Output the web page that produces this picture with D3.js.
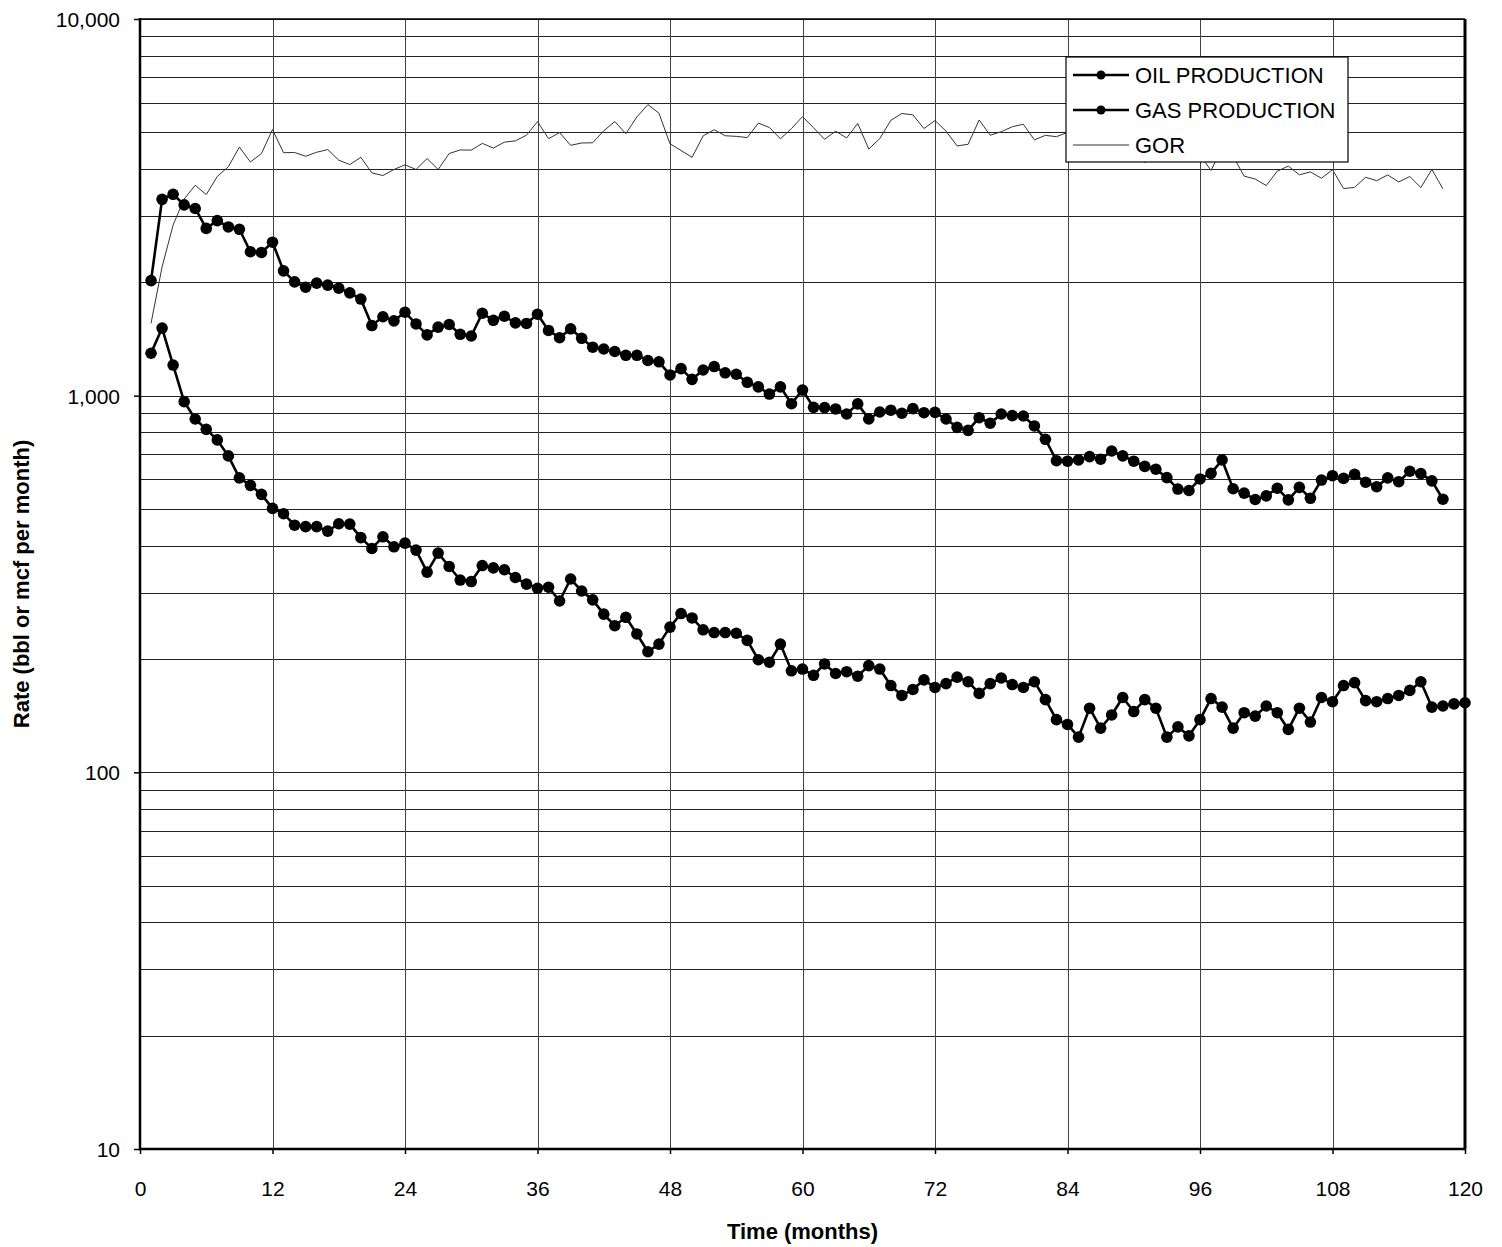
<!DOCTYPE html>
<html>
<head>
<meta charset="utf-8">
<script src="https://cdn.jsdelivr.net/npm/d3@7"></script>
<style>
  body { margin: 0; background: #fff; }
  svg { display: block; }
  text { font-family: "Liberation Sans", Arial, sans-serif; fill: #000; }
</style>
</head>
<body>
<svg id="chart" width="1502" height="1247"></svg>
<script>
// Monthly gas production (mcf per month), months 1..118
const gasProduction = [
  2020, 3320, 3425, 3210, 3140, 2780, 2915, 2805, 2765, 2410,
  2400, 2555, 2145, 2005, 1940, 1990, 1965, 1930, 1875, 1805,
  1535, 1620, 1580, 1665, 1550, 1450, 1520, 1545, 1455, 1440,
  1655, 1585, 1625, 1560, 1555, 1645, 1490, 1425, 1505, 1420,
  1345, 1330, 1310, 1280, 1280, 1240, 1230, 1135, 1180, 1105,
  1170, 1195, 1150, 1140, 1085, 1055, 1010, 1055, 952, 1035,
  931, 930, 922, 894, 951, 867, 905, 915, 898, 924,
  901, 903, 867, 824, 809, 874, 845, 894, 885, 883,
  831, 766, 672, 670, 675, 689, 678, 713, 692, 670,
  649, 638, 606, 565, 560, 601, 622, 675, 566, 551,
  530, 542, 568, 529, 571, 534, 597, 613, 603, 618,
  589, 573, 605, 591, 630, 621, 594, 531
];

// Monthly oil production (bbl per month), months 1..120
const oilProduction = [
  1296, 1512, 1206, 964, 867, 814, 763, 692, 605, 578,
  547, 502, 486, 453, 449, 449, 437, 457, 456, 420,
  393, 422, 397, 406, 389, 340, 382, 352, 324, 321,
  354, 349, 345, 329, 316, 308, 310, 285, 326, 303,
  287, 263, 245, 258, 233, 209, 219, 243, 264, 257,
  239, 235, 235, 234, 224, 199, 196, 219, 186, 188,
  181, 194, 183, 185, 180, 192, 188, 170, 160, 166,
  176, 168, 172, 179, 174, 162, 172, 178, 171, 168,
  174, 156, 138, 134, 124, 148, 131, 142, 158, 145,
  156, 148, 124, 132, 125, 138, 157, 149, 131, 144,
  141, 150, 144, 130, 148, 136, 158, 154, 170, 173,
  155, 154, 157, 160, 165, 174, 149, 150, 152, 153
];

// Gas-oil ratio (scf/bbl), months 1..118
const gor = [
  1556, 2197, 2840, 3328, 3618, 3418, 3820, 4052, 4570, 4173,
  4393, 5088, 4416, 4422, 4321, 4428, 4501, 4219, 4107, 4293,
  3903, 3841, 3985, 4101, 3985, 4262, 3984, 4395, 4491, 4486,
  4675, 4544, 4710, 4748, 4915, 5341, 4813, 4993, 4620, 4686,
  4693, 5049, 5343, 4961, 5494, 5928, 5621, 4663, 4477, 4292,
  4895, 5081, 4898, 4880, 4844, 5291, 5153, 4808, 5118, 5505,
  5144, 4794, 5038, 4832, 5283, 4516, 4814, 5382, 5613, 5566,
  5119, 5375, 5041, 4603, 4649, 5395, 4913, 5022, 5175, 5256,
  4776, 4910, 4870, 5000, 5444, 4655, 5176, 5021, 4380, 4621,
  4160, 4311, 4887, 4280, 4480, 4355, 3962, 4530, 4321, 3826,
  3759, 3613, 3944, 4069, 3858, 3926, 3778, 3981, 3547, 3572,
  3800, 3721, 3854, 3694, 3818, 3569, 3987, 3540
];

const xTicks = [0, 12, 24, 36, 48, 60, 72, 84, 96, 108, 120];
const yTicks = [10, 100, 1000, 10000];
const seriesNames = ["OIL PRODUCTION", "GAS PRODUCTION", "GOR"];

const svg = d3.select("#chart");
const plotLeft = 140, plotRight = 1465, plotTop = 19, plotBottom = 1149;

const x = d3.scaleLinear().domain([0, 120]).range([plotLeft, plotRight]);
const y = d3.scaleLog().domain([10, 10000]).range([plotBottom, plotTop]);

// Horizontal grid at every 1-9 multiple within each decade
const gridValues = [];
[10, 100, 1000].forEach(d => { for (let m = 1; m <= 9; m++) gridValues.push(d * m); });
gridValues.push(10000);

svg.append("g")
  .selectAll("line")
  .data(gridValues.filter(v => v > 10))
  .join("line")
  .attr("x1", plotLeft).attr("x2", plotRight)
  .attr("y1", d => Math.round(y(d)) + 0.5).attr("y2", d => Math.round(y(d)) + 0.5)
  .attr("stroke", "#222").attr("stroke-width", 1);

// Vertical grid every 12 months
svg.append("g")
  .selectAll("line")
  .data(xTicks.filter(v => v > 0 && v < 120))
  .join("line")
  .attr("x1", d => Math.round(x(d)) + 0.5).attr("x2", d => Math.round(x(d)) + 0.5)
  .attr("y1", plotTop).attr("y2", plotBottom)
  .attr("stroke", "#444").attr("stroke-width", 1);

// Axes
const yAxis = d3.axisLeft(y)
  .tickValues(yTicks)
  .tickFormat(d3.format(","))
  .tickSize(6)
  .tickPadding(14);
const gy = svg.append("g").attr("transform", `translate(${plotLeft},0)`).call(yAxis);
gy.select(".domain").remove();
gy.selectAll("text").style("font-size", "21px").attr("dy", "0.35em");
gy.selectAll(".tick line").attr("stroke", "#000").attr("stroke-width", 1.5);

const xAxis = d3.axisBottom(x)
  .tickValues(xTicks)
  .tickSize(5)
  .tickPadding(27);
const gx = svg.append("g").attr("transform", `translate(0,${plotBottom})`).call(xAxis);
gx.select(".domain").remove();
gx.selectAll("text").style("font-size", "21px");
gx.selectAll(".tick line").attr("stroke", "#000").attr("stroke-width", 1.5);

// Plot frame
svg.append("line").attr("x1", plotLeft).attr("x2", plotRight).attr("y1", plotTop).attr("y2", plotTop)
  .attr("stroke", "#000").attr("stroke-width", 1.5);
svg.append("line").attr("x1", plotRight).attr("x2", plotRight).attr("y1", plotTop).attr("y2", plotBottom)
  .attr("stroke", "#000").attr("stroke-width", 3);
svg.append("line").attr("x1", plotLeft).attr("x2", plotLeft).attr("y1", plotTop - 1).attr("y2", plotBottom + 1)
  .attr("stroke", "#000").attr("stroke-width", 2.5);
svg.append("line").attr("x1", plotLeft - 1).attr("x2", plotRight + 1).attr("y1", plotBottom).attr("y2", plotBottom)
  .attr("stroke", "#000").attr("stroke-width", 2.5);

// Series
const toPoints = arr => arr.map((v, i) => ({ m: i + 1, v }));
const line = d3.line().x(d => x(d.m)).y(d => y(d.v));

// GOR thin line
svg.append("path")
  .datum(toPoints(gor))
  .attr("d", line)
  .attr("fill", "none")
  .attr("stroke", "#333")
  .attr("stroke-width", 1);

function drawMarkedSeries(values) {
  const pts = toPoints(values);
  const g = svg.append("g");
  g.append("path")
    .datum(pts)
    .attr("d", line)
    .attr("fill", "none")
    .attr("stroke", "#000")
    .attr("stroke-width", 2.6)
    .attr("stroke-linejoin", "round");
  g.selectAll("circle")
    .data(pts)
    .join("circle")
    .attr("cx", d => x(d.m))
    .attr("cy", d => y(d.v))
    .attr("r", 5.8)
    .attr("fill", "#000");
}
drawMarkedSeries(gasProduction);
drawMarkedSeries(oilProduction);

// Legend
const lg = svg.append("g").attr("transform", "translate(1066,57)");
lg.append("rect").attr("width", 282).attr("height", 105)
  .attr("fill", "#fff").attr("stroke", "#000").attr("stroke-width", 1.2);
seriesNames.forEach((name, i) => {
  const cy = 18 + i * 35;
  const row = lg.append("g").attr("transform", `translate(0,${cy})`);
  row.append("line").attr("x1", 7).attr("x2", 63).attr("y1", 0).attr("y2", 0)
    .attr("stroke", i < 2 ? "#000" : "#333").attr("stroke-width", i < 2 ? 2.6 : 1);
  if (i < 2) row.append("circle").attr("cx", 35).attr("cy", 0).attr("r", 4.5).attr("fill", "#000");
  row.append("text").attr("x", 69).attr("y", 0).attr("dy", "0.36em")
    .style("font-size", "22px").text(name);
});

// Axis titles
svg.append("text")
  .attr("x", (plotLeft + plotRight) / 2).attr("y", 1239)
  .attr("text-anchor", "middle")
  .style("font-size", "22px").style("font-weight", "bold")
  .text("Time (months)");

svg.append("text")
  .attr("transform", `translate(29,${(plotTop + plotBottom) / 2}) rotate(-90)`)
  .attr("text-anchor", "middle")
  .style("font-size", "22px").style("font-weight", "bold")
  .text("Rate (bbl or mcf per month)");
</script>
</body>
</html>
